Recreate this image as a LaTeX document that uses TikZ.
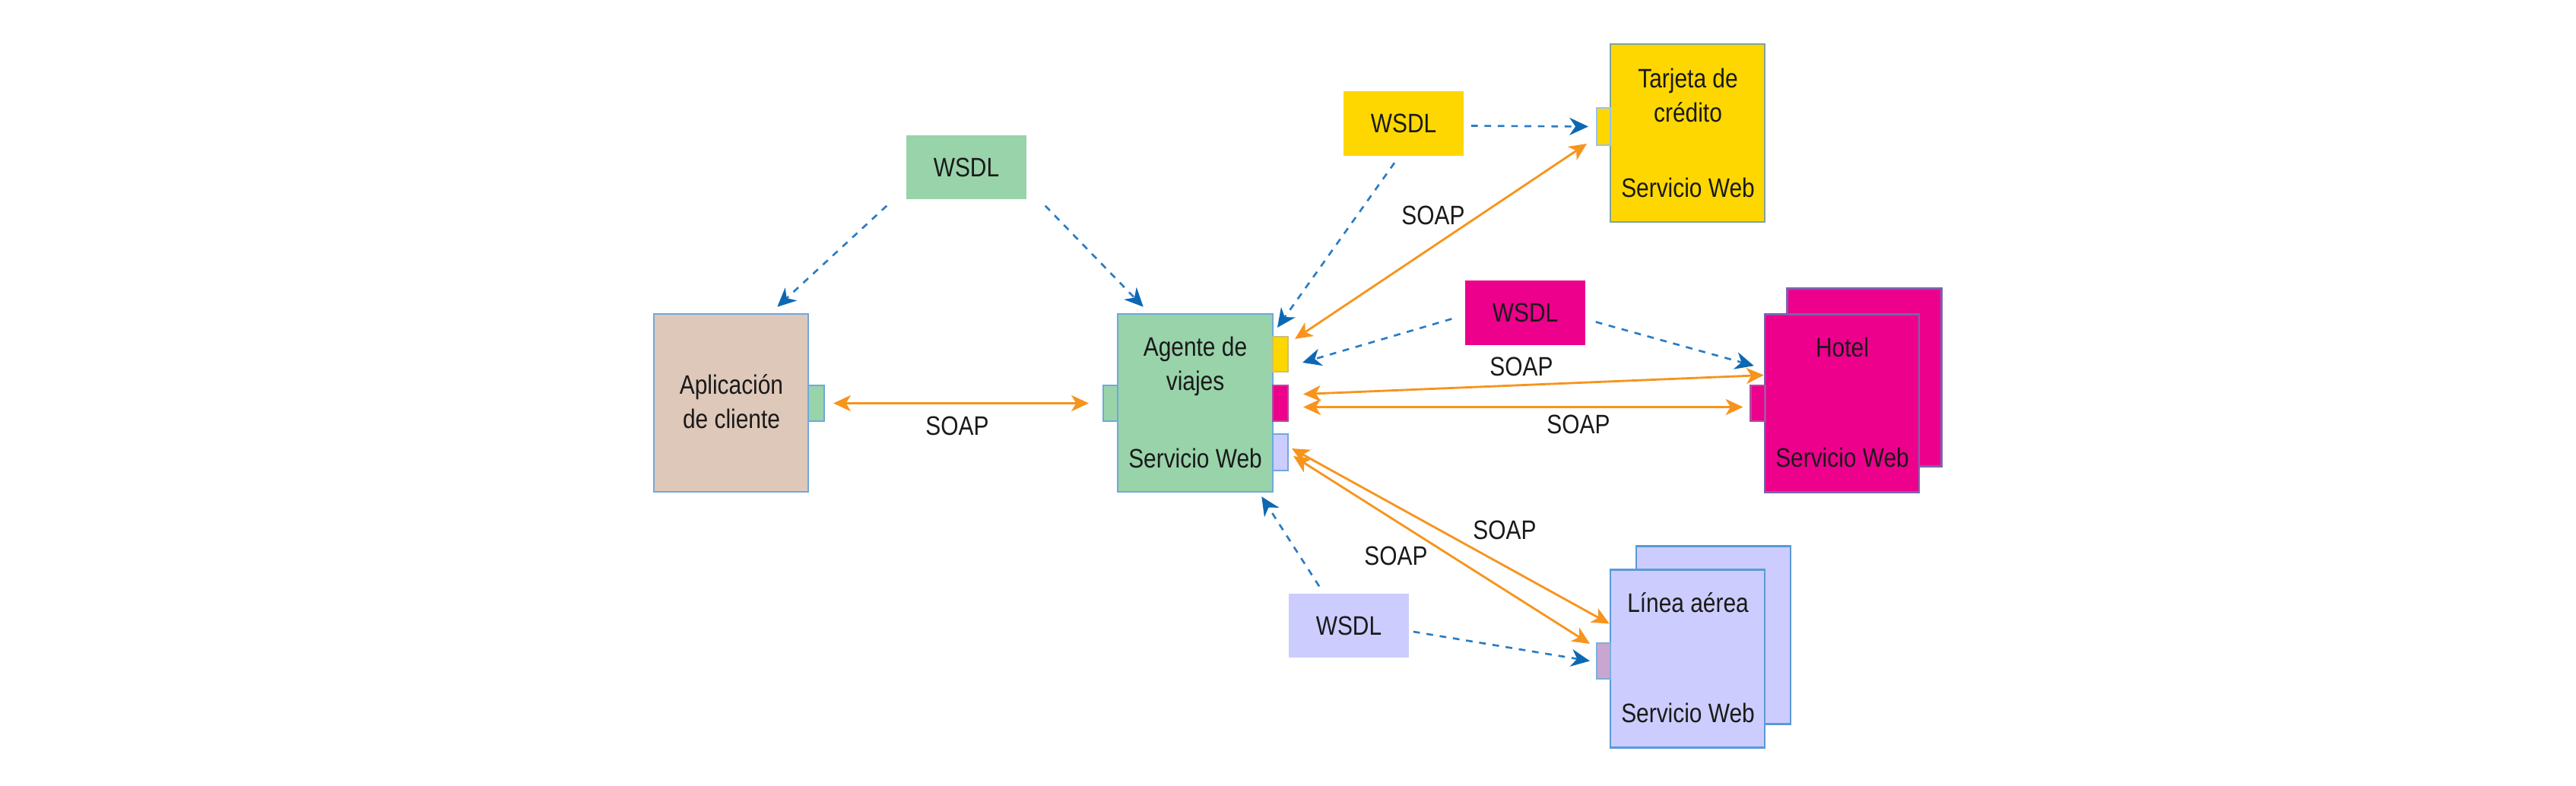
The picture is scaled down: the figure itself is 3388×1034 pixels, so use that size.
\documentclass[tikz,border=0pt]{standalone}
\usepackage{fontspec}
\setmainfont{Liberation Sans}[FakeStretch=0.85]
\usetikzlibrary{arrows.meta,calc,backgrounds}
\definecolor{wgreen}{HTML}{99D3AA}
\definecolor{wbeige}{HTML}{DEC8B9}
\definecolor{wyellow}{HTML}{FFD700}
\definecolor{wmag}{HTML}{EC008C}
\definecolor{wlav}{HTML}{CCCCFF}
\definecolor{wmauve}{HTML}{C8A6CF}
\definecolor{bblue}{HTML}{6FA8DC}
\definecolor{lblue}{HTML}{5B9BD5}
\definecolor{hpurple}{HTML}{7B62B0}
\definecolor{tteal}{HTML}{7FA39A}
\definecolor{portmag}{HTML}{B04CA0}
\definecolor{portyel}{HTML}{C8C070}
\definecolor{orangeA}{HTML}{F7941D}
\definecolor{dblue}{HTML}{2A7CC4}
\definecolor{tipblue}{HTML}{0B68B3}
\definecolor{txt}{HTML}{1A1A1A}
\tikzset{
  svcbox/.style={line width=0.7pt, inner sep=0pt, minimum width=2.03cm, minimum height=2.34cm},
  wsdlbox/.style={inner sep=0pt, minimum width=1.58cm, minimum height=0.84cm, text=txt, font=\fontsize{10}{12.8}\selectfont},
  portbox/.style={line width=0.6pt, inner sep=0pt, minimum width=0.19cm, minimum height=0.47cm},
  lbl/.style={text=txt, inner sep=0pt, font=\fontsize{10}{12.8}\selectfont},
  dep/.style={dblue, dash pattern=on 2.5pt off 2.5pt, line width=0.75pt, -{Stealth[length=7pt,width=6.5pt,inset=2.2pt,color=tipblue]}},
  soap/.style={orangeA, line width=0.8pt, {Stealth[length=6.5pt,width=6pt,inset=1.8pt]}-{Stealth[length=6.5pt,width=6pt,inset=1.8pt]}}
}
\begin{document}
\begin{tikzpicture}[x=0.01cm,y=-0.01cm]
\useasboundingbox (0,0) rectangle (3388,1034);
% WSDL boxes
\node[wsdlbox, fill=wgreen] (wsdlG) at (1271,220) {WSDL};
\node[wsdlbox, fill=wyellow] (wsdlY) at (1846,162.5) {WSDL};
\node[wsdlbox, fill=wmag] (wsdlM) at (2006,411.5) {WSDL};
\node[wsdlbox, fill=wlav] (wsdlV) at (1774,823) {WSDL};
% client application
\node[svcbox, draw=bblue, fill=wbeige] (app) at (961.5,530) {};
\node[portbox, draw=bblue, fill=wgreen, minimum width=0.21cm] (appP) at (1073.5,530.5) {};
\node[lbl, align=center] (appT) at (962,528) {Aplicación\\de cliente};
% travel agent
\node[svcbox, draw=bblue, fill=wgreen, minimum width=2.04cm] (agent) at (1572,530) {};
\node[portbox, draw=bblue, fill=wgreen] (agentL) at (1460.5,530.5) {};
\node[portbox, draw=portyel, fill=wyellow, minimum width=0.2cm, minimum height=0.46cm] (agentY) at (1684,466) {};
\node[portbox, draw=portmag, fill=wmag, minimum width=0.2cm] (agentM) at (1684,530.5) {};
\node[portbox, draw=bblue, fill=wlav, minimum width=0.2cm, minimum height=0.48cm] (agentV) at (1684,595) {};
\node[lbl, align=center] (agentT) at (1572,482) {Agente de\\viajes};
\node[lbl] (agentS) at (1572,603) {Servicio Web};
% credit card
\node[svcbox, draw=tteal, fill=wyellow] (tarjeta) at (2219.5,175) {};
\node[portbox, draw=bblue!70, fill=wyellow, minimum width=0.18cm, minimum height=0.49cm] (tarjP) at (2109,166.5) {};
\node[lbl, align=center] (tarjT) at (2220,125) {Tarjeta de\\crédito};
\node[lbl] (tarjS) at (2220,247) {Servicio Web};
% hotel
\node[svcbox, draw=hpurple, fill=wmag] (hotelB) at (2452,496.5) {};
\node[svcbox, draw=hpurple, fill=wmag] (hotelF) at (2422.5,530.5) {};
\node[portbox, draw=portmag, fill=wmag] (hotelP) at (2312,530.5) {};
\node[lbl] (hotelT) at (2423,457) {Hotel};
\node[lbl] (hotelS) at (2423,602) {Servicio Web};
% airline
\node[svcbox, draw=lblue, fill=wlav] (lineaB) at (2253.5,835.5) {};
\node[svcbox, draw=lblue, fill=wlav] (lineaF) at (2219.5,866.5) {};
\node[portbox, draw=lblue!80, fill=wmauve, minimum width=0.18cm] (lineaP) at (2109,869.5) {};
\node[lbl] (lineaT) at (2220,793) {Línea aérea};
\node[lbl] (lineaS) at (2220,938) {Servicio Web};
% SOAP labels
\node[lbl] (s1) at (1259,560) {SOAP};
\node[lbl] (s2) at (1885,283) {SOAP};
\node[lbl] (s3) at (2001,482) {SOAP};
\node[lbl] (s4) at (2076,558) {SOAP};
\node[lbl] (s5) at (1979,697) {SOAP};
\node[lbl] (s6) at (1836,731) {SOAP};
\begin{pgfonlayer}{background}
\fill[white] (0,0) rectangle (3388,1034);
% WSDL dependencies
\draw[dep] ($(wsdlG.south west)+(-25,8)$) -- ($(app.north east)+(-42,-8)$);
\draw[dep] ($(wsdlG.south east)+(24,8)$) -- ($(agent.north west)+(35,-8)$);
\draw[dep] ($(wsdlY.south)+(-12,9)$) -- ($(agentY.north)+(-4,-11)$);
\draw[dep] ($(wsdlY.east)+(9,3)$) -- ($(tarjP.west)+(-10,0)$);
\draw[dep] ($(wsdlM.west)+(-17,8)$) -- ($(agentY.east)+(18,11)$);
\draw[dep] ($(wsdlM.east)+(13,12)$) -- ($(hotelF.north west)+(-13,69)$);
\draw[dep] ($(wsdlV.north)+(-39,-9)$) -- ($(agent.south east)+(-16,5)$);
\draw[dep] ($(wsdlV.east)+(5,8)$) -- ($(lineaP.west)+(-8,0)$);
% SOAP connections
\draw[soap] ($(appP.east)+(11,0)$) -- ($(agentL.west)+(-18,0)$);
\draw[soap] ($(agentY.north east)+(8,4)$) -- ($(tarjP.south west)+(-12,-3)$);
\draw[soap] ($(agentM.east)+(19,-12)$) -- ($(hotelF.west)+(0,-37)$);
\draw[soap] ($(agentM.east)+(19,5)$) -- ($(hotelP.west)+(-9,5)$);
\draw[soap] ($(agentV.east)+(6,5)$) -- ($(lineaP.north west)+(-8,2)$);
\draw[soap] ($(agentV.east)+(4,-5)$) -- ($(lineaF.west)+(0,-46)$);
\end{pgfonlayer}
\end{tikzpicture}
\end{document}
